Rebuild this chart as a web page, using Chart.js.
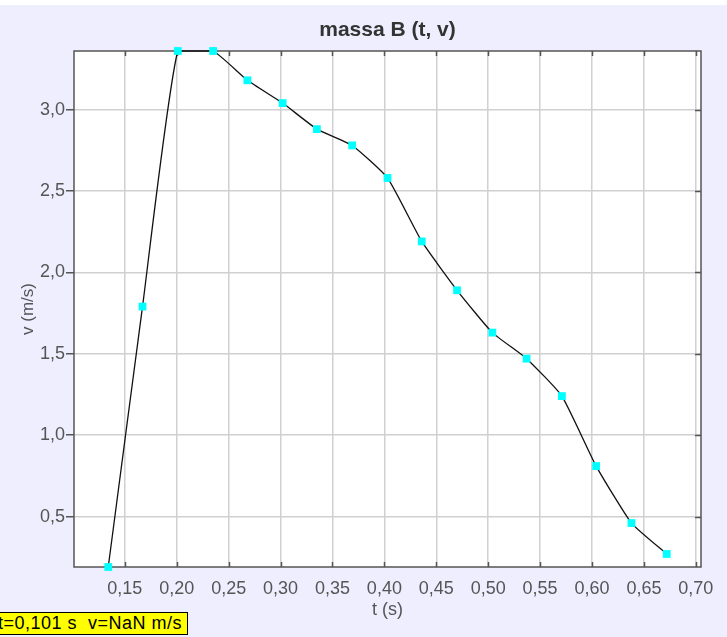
<!DOCTYPE html>
<html>
<head>
<meta charset="utf-8">
<script src="https://cdn.jsdelivr.net/npm/chart.js@4.4.1/dist/chart.umd.min.js"></script>
<style>
  html, body { margin: 0; padding: 0; background: #fff; }
  #bg { position: absolute; left: 0; top: 5px; width: 727px; height: 632px; background: #eeeeff; }
  #box { position: absolute; left: 0; top: 0; width: 727px; height: 637px; }
  #status {
    position: absolute; left: 0; top: 612px; height: 21px; width: 187px;
    background: #ffff00; border: 1px solid #000; border-left: none;
    font: 18px "Liberation Sans", Arial, sans-serif; line-height: 21px;
    white-space: nowrap; overflow: hidden; text-indent: -2px; letter-spacing: 0.5px; color: #000;
  }
</style>
</head>
<body>
<div id="bg"></div>
<div id="box"><canvas id="myChart" width="727" height="637"></canvas></div>
<div id="status">t=0,101 s&nbsp; v=NaN m/s</div>
<script>
// measured points (t in s, v in m/s)
const tValues = [0.134, 0.167, 0.201, 0.235, 0.268, 0.302, 0.335, 0.369, 0.403, 0.436, 0.470, 0.504, 0.537, 0.571, 0.604, 0.638, 0.672];
const vValues = [0.19, 1.79, 3.36, 3.36, 3.18, 3.04, 2.88, 2.78, 2.58, 2.19, 1.89, 1.63, 1.47, 1.24, 0.81, 0.46, 0.27];

const tTicks = [0.15, 0.20, 0.25, 0.30, 0.35, 0.40, 0.45, 0.50, 0.55, 0.60, 0.65, 0.70];
const vTicks = [0.5, 1.0, 1.5, 2.0, 2.5, 3.0];

const tRange = [0.101, 0.705];
const vRange = [0.19, 3.36];

const chartTitle = 'massa B (t, v)';
const tLabel = 't (s)';
const vLabel = 'v (m/s)';

const FONT = '"Liberation Sans", Arial, sans-serif';
const DARK = '#555555';

// white plot area, frame, inner ticks and the title centred over the plot
const framePlugin = {
    id: 'framePlugin',
    beforeDraw(chart) {
        const { ctx, chartArea: a } = chart;
        ctx.save();
        ctx.fillStyle = '#ffffff';
        ctx.fillRect(a.left, a.top, a.width, a.height);
        ctx.restore();
    },
    beforeDatasetsDraw(chart) {
        const { ctx, chartArea: a, scales } = chart;
        ctx.save();
        ctx.strokeStyle = DARK;
        ctx.lineWidth = 1.5;
        ctx.beginPath();
        scales.x.ticks.forEach(t => {
            const px = Math.round(scales.x.getPixelForValue(t.value)) + 0.5;
            ctx.moveTo(px, a.top); ctx.lineTo(px, a.top + 5);
            ctx.moveTo(px, a.bottom); ctx.lineTo(px, a.bottom - 5);
        });
        scales.y.ticks.forEach(t => {
            const py = Math.round(scales.y.getPixelForValue(t.value)) + 0.5;
            ctx.moveTo(a.right, py); ctx.lineTo(a.right - 6, py);
        });
        ctx.stroke();
        ctx.strokeRect(a.left, a.top, a.width, a.height);
        ctx.restore();
    },
    afterDraw(chart) {
        const { ctx, chartArea: a } = chart;
        ctx.save();
        ctx.fillStyle = '#333333';
        ctx.font = 'bold 21px ' + FONT;
        ctx.textAlign = 'center';
        ctx.textBaseline = 'middle';
        ctx.fillText(chartTitle, (a.left + a.right) / 2, 30);
        ctx.restore();
    }
};

const points = tValues.map((t, i) => ({ x: t, y: vValues[i] }));

new Chart(document.getElementById('myChart').getContext('2d'), {
    type: 'scatter',
    data: {
        datasets: [{
            data: points,
            showLine: true,
            borderColor: '#111111',
            borderWidth: 1.3,
            tension: 0.15,
            pointStyle: 'rect',
            pointRadius: 5.5,
            pointBorderWidth: 0,
            pointBackgroundColor: '#00ffff',
            clip: false
        }]
    },
    options: {
        responsive: false,
        animation: false,
        events: [],
        layout: { padding: { top: 51, right: 26, bottom: 0, left: 0 } },
        plugins: { legend: { display: false }, tooltip: { enabled: false } },
        scales: {
            x: {
                type: 'linear',
                min: tRange[0],
                max: tRange[1],
                afterFit: s => { s.height = 70; },
                afterBuildTicks: s => { s.ticks = tTicks.map(v => ({ value: v })); },
                grid: { color: '#d0d0d0', lineWidth: 1.5, drawTicks: false },
                border: { display: false },
                ticks: {
                    padding: 11,
                    color: DARK,
                    font: { family: FONT, size: 18 },
                    maxRotation: 0,
                    callback: v => v.toFixed(2).replace('.', ',')
                },
                title: {
                    display: true, text: tLabel, color: DARK,
                    font: { family: FONT, size: 18 }, padding: { top: 0, bottom: 16 }
                }
            },
            y: {
                type: 'linear',
                min: vRange[0],
                max: vRange[1],
                afterFit: s => { s.width = 74; },
                afterBuildTicks: s => { s.ticks = vTicks.map(v => ({ value: v })); },
                grid: { color: '#d0d0d0', lineWidth: 1.5, tickLength: 8, tickColor: DARK, tickWidth: 1.5 },
                border: { display: false },
                ticks: {
                    padding: 1,
                    color: DARK,
                    font: { family: FONT, size: 18 },
                    callback: v => v.toFixed(1).replace('.', ',')
                },
                title: {
                    display: true, text: vLabel, color: DARK,
                    font: { family: FONT, size: 17 }, padding: { top: 18, bottom: 0 }
                }
            }
        }
    },
    plugins: [framePlugin]
});
</script>
</body>
</html>
